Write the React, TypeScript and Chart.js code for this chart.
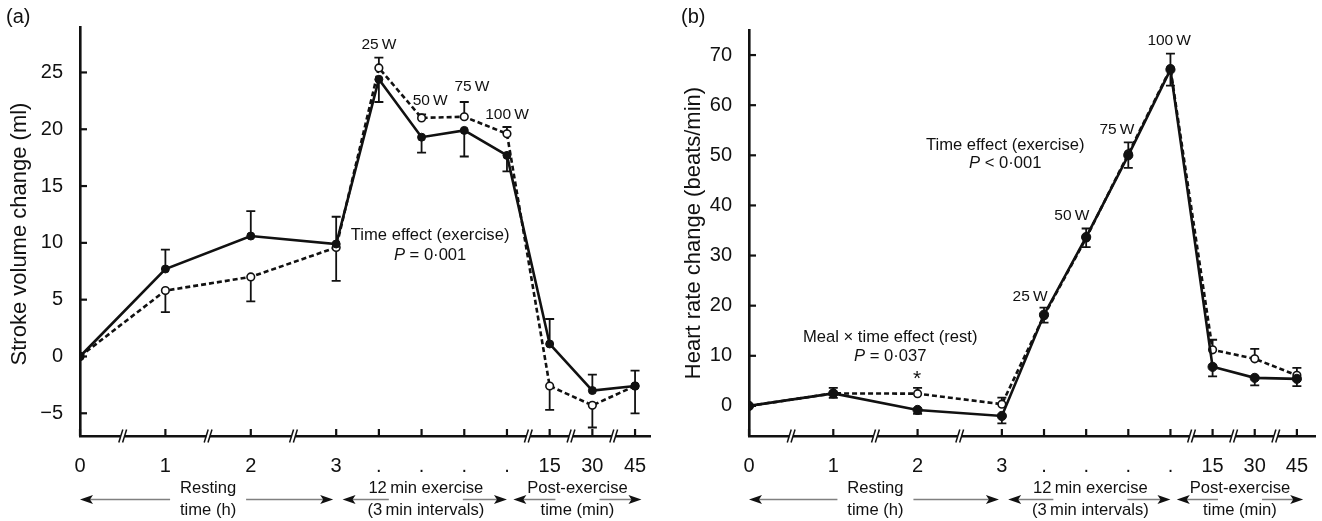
import React, { useEffect, useRef } from 'react';
import { Chart, registerables } from 'chart.js';
Chart.register(...registerables);

type Dir = 'up' | 'down' | 'none';

// Shared x categories (broken time axis)
const categories = ['0', '1', '2', '3', '.', '.', '.', '.', '15', '30', '45'];
const breakPositions = [1, 3, 5, 10.5, 11.5, 12.5];

// Panel (a): stroke volume change (ml)
const svSolid = [0, 7.7, 10.6, 9.9, 24.4, 19.3, 19.9, 17.7, 1.1, -3.0, -2.6];
const svSolidSe = [0, 1.7, 2.2, 2.4, 2.0, 1.35, 2.3, 1.4, 2.2, 1.4, 1.35];
const svSolidDir: Dir[] = ['none', 'up', 'up', 'up', 'down', 'down', 'down', 'down', 'up', 'up', 'up'];
const svDashed = [0, 5.8, 7.0, 9.6, 25.4, 21.0, 21.1, 19.6, -2.6, -4.3, -2.6];
const svDashedSe = [0, 1.9, 2.15, 2.95, 0.9, 0.3, 1.3, 0.6, 2.1, 1.95, 2.4];
const svDashedDir: Dir[] = ['none', 'down', 'down', 'down', 'up', 'up', 'up', 'up', 'down', 'down', 'down'];
const svTicks = [-5, 0, 5, 10, 15, 20, 25];

// Panel (b): heart rate change (beats/min)
const hrSolid = [0, 2.5, -0.8, -2.0, 18.2, 33.7, 50.0, 67.1, 7.8, 5.6, 5.4];
const hrSolidSe = [0, 0.9, 0.8, 1.5, 1.6, 2.0, 2.5, 3.2, 1.9, 1.5, 1.45];
const hrSolidDir: Dir[] = ['none', 'down', 'down', 'down', 'down', 'down', 'down', 'down', 'down', 'down', 'down'];
const hrDashed = [0, 2.5, 2.45, 0.35, 18.0, 33.5, 50.3, 67.3, 11.2, 9.4, 6.1];
const hrDashedSe = [0, 1.1, 1.15, 1.3, 1.6, 1.9, 2.3, 3.0, 2.0, 2.0, 1.5];
const hrDashedDir: Dir[] = ['none', 'up', 'up', 'up', 'up', 'up', 'up', 'up', 'up', 'up', 'up'];
const hrTicks = [0, 10, 20, 30, 40, 50, 60, 70];

const FONT = '"Liberation Sans", Arial, Helvetica, sans-serif';

type Part = { t: string; i?: boolean };
type Note = { x: number; y: number; parts: Part[]; size: number };

const svNotes: Note[] = [
  { x: 7.0, y: 27.4, parts: [{ t: '25\u2009W' }], size: 15.5 },
  { x: 8.2, y: 22.5, parts: [{ t: '50\u2009W' }], size: 15.5 },
  { x: 9.18, y: 23.7, parts: [{ t: '75\u2009W' }], size: 15.5 },
  { x: 10.0, y: 21.25, parts: [{ t: '100\u2009W' }], size: 15.5 },
  { x: 8.2, y: 10.67, parts: [{ t: 'Time effect (exercise)' }], size: 16.6 },
  { x: 8.2, y: 8.9, parts: [{ t: 'P', i: true }, { t: ' = 0\u00b7001' }], size: 16.6 },
];
const hrNotes: Note[] = [
  { x: 9.97, y: 72.8, parts: [{ t: '100\u2009W' }], size: 15.5 },
  { x: 8.73, y: 55.2, parts: [{ t: '75\u2009W' }], size: 15.5 },
  { x: 7.66, y: 37.96, parts: [{ t: '50\u2009W' }], size: 15.5 },
  { x: 6.67, y: 21.8, parts: [{ t: '25\u2009W' }], size: 15.5 },
  { x: 6.08, y: 52.0, parts: [{ t: 'Time effect (exercise)' }], size: 16.6 },
  { x: 6.08, y: 48.3, parts: [{ t: 'P', i: true }, { t: ' < 0\u00b7001' }], size: 16.6 },
  { x: 3.35, y: 13.74, parts: [{ t: 'Meal \u00d7 time effect (rest)' }], size: 16.6 },
  { x: 3.35, y: 9.9, parts: [{ t: 'P', i: true }, { t: ' = 0\u00b7037' }], size: 16.6 },
  { x: 3.99, y: 5.4, parts: [{ t: '*' }], size: 21 },
];

const bottomGroups = [
  { lines: ['Resting', 'time (h)'], from: 0, to: 5.93, center: 3, gap: 38 },
  { lines: ['12\u2009min exercise', '(3\u2009min intervals)'], from: 6.15, to: 10.0, center: 8.1, gap: 37 },
  { lines: ['Post-exercise', 'time (min)'], from: 10.15, to: 13.15, center: 11.65, gap: 22 },
];

const xPosOf = (i: number) => (i <= 3 ? 2 * i : i + 3);

interface PanelCfg {
  solid: number[]; solidSe: number[]; solidDir: Dir[];
  dashed: number[]; dashedSe: number[]; dashedDir: Dir[];
  yMin: number; yMax: number; yTicks: number[]; xMax: number;
  padRight: number; padTop: number; yAxisWidth: number;
  yTitle: string; yTitleX: number; yTitleY: number;
  panelLabel: string; panelLabelX: number;
  notes: Note[]; radius: number;
}

function drawParts(ctx: CanvasRenderingContext2D, parts: Part[], cx: number, cy: number, size: number) {
  const widths = parts.map((p) => {
    ctx.font = `${p.i ? 'italic ' : ''}${size}px ${FONT}`;
    return ctx.measureText(p.t).width;
  });
  const total = widths.reduce((a, b) => a + b, 0);
  let x = cx - total / 2;
  ctx.textAlign = 'left';
  ctx.textBaseline = 'middle';
  parts.forEach((p, k) => {
    ctx.font = `${p.i ? 'italic ' : ''}${size}px ${FONT}`;
    ctx.fillText(p.t, x, cy);
    x += widths[k];
  });
}

function makePlugin(cfg: PanelCfg) {
  return {
    id: 'panelDecor',
    beforeDatasetsDraw(chart: any) {
      const ctx = chart.ctx as CanvasRenderingContext2D;
      const ys = chart.scales.y;
      ctx.save();
      ctx.strokeStyle = '#111';
      ctx.lineWidth = 1.8;
      const series: [number[], number[], Dir[], number][] = [
        [cfg.solid, cfg.solidSe, cfg.solidDir, 0],
        [cfg.dashed, cfg.dashedSe, cfg.dashedDir, 1],
      ];
      series.forEach(([vals, se, dir, di]) => {
        const meta = chart.getDatasetMeta(di);
        meta.data.forEach((pt: any, i: number) => {
          const d = dir[i];
          if (d === 'none') return;
          const end = vals[i] + (d === 'up' ? se[i] : -se[i]);
          const x = pt.x;
          const y1 = ys.getPixelForValue(end);
          ctx.beginPath();
          ctx.moveTo(x, pt.y);
          ctx.lineTo(x, y1);
          ctx.moveTo(x - 4.5, y1);
          ctx.lineTo(x + 4.5, y1);
          ctx.stroke();
        });
      });
      ctx.restore();
    },
    afterDraw(chart: any) {
      const ctx = chart.ctx as CanvasRenderingContext2D;
      const xs = chart.scales.x;
      const ys = chart.scales.y;
      const area = chart.chartArea;
      ctx.save();
      ctx.strokeStyle = '#111';
      ctx.fillStyle = '#111';
      // inside tick marks
      ctx.lineWidth = 2.2;
      categories.forEach((_, i) => {
        const px = xs.getPixelForValue(xPosOf(i));
        ctx.beginPath();
        ctx.moveTo(px, area.bottom);
        ctx.lineTo(px, area.bottom - 7);
        ctx.stroke();
      });
      cfg.yTicks.forEach((v) => {
        const py = ys.getPixelForValue(v);
        ctx.beginPath();
        ctx.moveTo(area.left, py);
        ctx.lineTo(area.left + 7, py);
        ctx.stroke();
      });
      // axis breaks
      breakPositions.forEach((b) => {
        const px = xs.getPixelForValue(b);
        ctx.fillStyle = '#fff';
        ctx.fillRect(px - 1.8, area.bottom - 2.5, 3.6, 5);
        ctx.fillStyle = '#111';
        ctx.lineWidth = 1.5;
        [-1.9, 1.9].forEach((off) => {
          ctx.beginPath();
          ctx.moveTo(px + off - 2, area.bottom + 6.5);
          ctx.lineTo(px + off + 2, area.bottom - 6.5);
          ctx.stroke();
        });
      });
      // notes
      ctx.fillStyle = '#111';
      cfg.notes.forEach((n) => {
        drawParts(ctx, n.parts, xs.getPixelForValue(n.x), ys.getPixelForValue(n.y), n.size);
      });
      // y title
      ctx.save();
      ctx.translate(cfg.yTitleX, cfg.yTitleY);
      ctx.rotate(-Math.PI / 2);
      ctx.font = `22px ${FONT}`;
      ctx.textAlign = 'center';
      ctx.textBaseline = 'middle';
      ctx.fillText(cfg.yTitle, 0, 0);
      ctx.restore();
      // panel label
      ctx.font = `20px ${FONT}`;
      ctx.textAlign = 'left';
      ctx.textBaseline = 'middle';
      ctx.fillText(cfg.panelLabel, cfg.panelLabelX, 17);
      // bottom arrows
      const ay = 499.5;
      bottomGroups.forEach((g) => {
        const x0 = xs.getPixelForValue(g.from);
        const x1 = xs.getPixelForValue(g.to);
        const xc = xs.getPixelForValue(g.center);
        ctx.strokeStyle = '#808080';
        ctx.lineWidth = 1.6;
        ctx.beginPath();
        ctx.moveTo(x0 + 8, ay);
        ctx.lineTo(xc - g.gap, ay);
        ctx.moveTo(xc + g.gap, ay);
        ctx.lineTo(x1 - 8, ay);
        ctx.stroke();
        ctx.fillStyle = '#111';
        ctx.beginPath();
        ctx.moveTo(x0, ay);
        ctx.lineTo(x0 + 13, ay - 4.5);
        ctx.lineTo(x0 + 10, ay);
        ctx.lineTo(x0 + 13, ay + 4.5);
        ctx.closePath();
        ctx.fill();
        ctx.beginPath();
        ctx.moveTo(x1, ay);
        ctx.lineTo(x1 - 13, ay - 4.5);
        ctx.lineTo(x1 - 10, ay);
        ctx.lineTo(x1 - 13, ay + 4.5);
        ctx.closePath();
        ctx.fill();
        drawParts(ctx, [{ t: g.lines[0] }], xc, 488, 16.6);
        drawParts(ctx, [{ t: g.lines[1] }], xc, 510, 16.6);
      });
      ctx.restore();
    },
  };
}

function Panel({ cfg }: { cfg: PanelCfg }) {
  const ref = useRef<HTMLCanvasElement>(null);
  useEffect(() => {
    if (!ref.current) return;
    const toPts = (vals: number[]) => vals.map((v, i) => ({ x: xPosOf(i), y: v }));
    const chart = new Chart(ref.current, {
      type: 'line',
      data: {
        datasets: [
          {
            data: toPts(cfg.solid),
            borderColor: '#111',
            borderWidth: 2.6,
            pointRadius: cfg.radius,
            pointBackgroundColor: '#111',
            pointBorderColor: '#111',
            pointBorderWidth: 1,
            tension: 0,
          },
          {
            data: toPts(cfg.dashed),
            borderColor: '#111',
            borderWidth: 2.6,
            borderDash: [5, 3],
            pointRadius: 3.8,
            pointBackgroundColor: '#fff',
            pointBorderColor: '#111',
            pointBorderWidth: 1.6,
            tension: 0,
          },
        ],
      },
      options: {
        responsive: false,
        animation: false,
        events: [],
        layout: { padding: { left: 0, right: cfg.padRight, top: cfg.padTop, bottom: 0 } },
        plugins: { legend: { display: false }, tooltip: { enabled: false }, title: { display: false } },
        scales: {
          x: {
            type: 'linear',
            min: 0,
            max: cfg.xMax,
            grid: { display: false },
            border: { display: true, color: '#111', width: 2.6 },
            afterFit: (s: any) => { s.height = 521 - 436; },
            afterBuildTicks: (s: any) => { s.ticks = categories.map((_, i) => ({ value: xPosOf(i) })); },
            ticks: {
              autoSkip: false,
              maxRotation: 0,
              padding: 10,
              color: '#111',
              font: { family: FONT, size: 20 },
              callback: (v: any) => {
                const idx = categories.findIndex((_, i) => xPosOf(i) === v);
                return idx >= 0 ? categories[idx] : '';
              },
            },
          },
          y: {
            type: 'linear',
            min: cfg.yMin,
            max: cfg.yMax,
            grid: { display: false },
            border: { display: true, color: '#111', width: 2.6 },
            afterFit: (s: any) => { s.width = cfg.yAxisWidth; },
            afterBuildTicks: (s: any) => { s.ticks = cfg.yTicks.map((v) => ({ value: v })); },
            ticks: {
              padding: 9,
              color: '#111',
              font: { family: FONT, size: 20 },
              callback: (v: any) => (Number(v) < 0 ? '\u2212' + Math.abs(Number(v)) : String(v)),
            },
          },
        },
      },
      plugins: [makePlugin(cfg)],
    } as any);
    return () => chart.destroy();
  }, [cfg]);
  return <canvas ref={ref} width={661} height={521} style={{ display: 'block', width: 661, height: 521 }} />;
}

const cfgA: PanelCfg = {
  solid: svSolid, solidSe: svSolidSe, solidDir: svSolidDir,
  dashed: svDashed, dashedSe: svDashedSe, dashedDir: svDashedDir,
  yMin: -7, yMax: 29, yTicks: svTicks, xMax: 13.35,
  padRight: 11, padTop: 27, yAxisWidth: 80,
  yTitle: 'Stroke volume change (ml)', yTitleX: 20, yTitleY: 234,
  panelLabel: '(a)', panelLabelX: 6, notes: svNotes, radius: 4,
};
const cfgB: PanelCfg = {
  solid: hrSolid, solidSe: hrSolidSe, solidDir: hrSolidDir,
  dashed: hrDashed, dashedSe: hrDashedSe, dashedDir: hrDashedDir,
  yMin: -6, yMax: 75, yTicks: hrTicks, xMax: 13.43,
  padRight: 7, padTop: 30, yAxisWidth: 88,
  yTitle: 'Heart rate change (beats/min)', yTitleX: 33, yTitleY: 233,
  panelLabel: '(b)', panelLabelX: 20, notes: hrNotes, radius: 4.6,
};

export default function App() {
  return (
    <div style={{ position: 'absolute', left: 0, top: 0, width: 1322, height: 521, display: 'flex', background: '#fff' }}>
      <Panel cfg={cfgA} />
      <Panel cfg={cfgB} />
    </div>
  );
}
